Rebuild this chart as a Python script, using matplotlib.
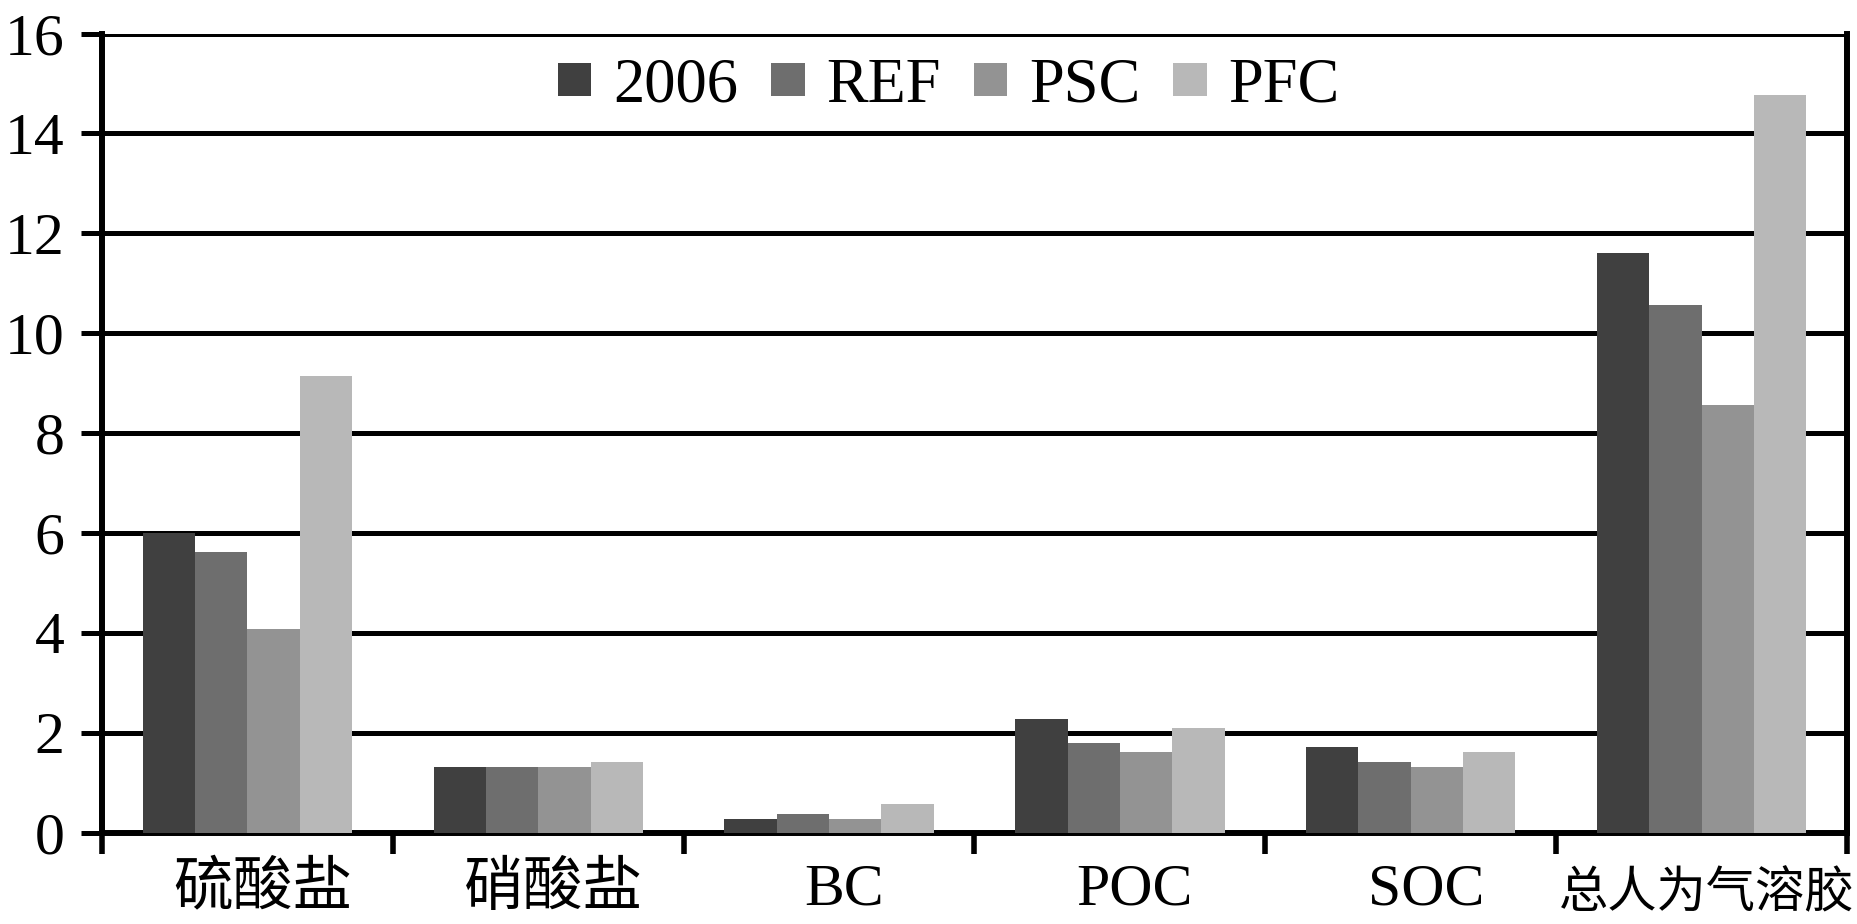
import matplotlib
matplotlib.use("Agg")
import matplotlib.pyplot as plt
import matplotlib.transforms as mtransforms
import numpy as np

categories = ["硫酸盐", "硝酸盐", "BC", "POC", "SOC", "总人为气溶胶"]
series_names = ["2006", "REF", "PSC", "PFC"]
v2006 = [6.0, 1.32, 0.27, 2.27, 1.71, 11.61]
vREF = [5.62, 1.32, 0.37, 1.80, 1.41, 10.57]
vPSC = [4.08, 1.32, 0.27, 1.61, 1.32, 8.57]
vPFC = [9.15, 1.41, 0.57, 2.09, 1.61, 14.77]
colors = ["#404040", "#6e6e6e", "#939393", "#b8b8b8"]
yticks = [0, 2, 4, 6, 8, 10, 12, 14, 16]

plt.rcParams['font.family'] = ['Liberation Serif', 'Noto Sans CJK SC', 'DejaVu Sans']

fig = plt.figure(figsize=(18.58, 9.24), dpi=100)
ax = fig.add_axes([102/1858, 1 - 832.6/924, (1847 - 102)/1858, (832.6 - 33.6)/924])

x = np.arange(len(categories))
w = 0.18
all_vals = [v2006, vREF, vPSC, vPFC]
for i, (vals, name, c) in enumerate(zip(all_vals, series_names, colors)):
    ax.bar(x + (i - 1.5) * w, vals, width=w, color=c, label=name, zorder=3, linewidth=0)

ax.set_xlim(-0.5, len(categories) - 0.5)
ax.set_ylim(0, 16)
ax.set_yticks(yticks)
ax.set_yticklabels([str(t) for t in yticks])
ax.yaxis.grid(True, color='black', linewidth=3.6, zorder=1)
ax.set_axisbelow(True)

ax.set_xticks(x)
ax.set_xticklabels(categories)
ax.set_xticks(np.arange(-0.5, len(categories) + 0.5, 1), minor=True)
ax.tick_params(axis='x', which='major', length=0, pad=22, labelsize=43)
ax.tick_params(axis='x', which='minor', length=15, width=4.0, direction='out', color='black')
ax.tick_params(axis='y', which='major', length=15, width=3.6, direction='out', color='black', pad=12, labelsize=43)

xlabels = ax.get_xticklabels()
for k, lbl in enumerate(xlabels):
    if k < len(xlabels) - 1:
        dx, dy = 15, 0
    else:
        dx, dy = 5, -8
    lbl.set_transform(lbl.get_transform() + mtransforms.ScaledTranslation(dx/100, dy/100, fig.dpi_scale_trans))
xlabels[-1].set_fontsize(35.5)

for side in ['left', 'right', 'bottom']:
    ax.spines[side].set_linewidth(4.3)
    ax.spines[side].set_color('black')
ax.spines['top'].set_visible(False)

leg = ax.legend(loc='center', bbox_to_anchor=(949/1858, 1 - 87/924), bbox_transform=fig.transFigure,
                ncol=4, frameon=False, fontsize=45, handlelength=0.53, handleheight=0.44,
                handletextpad=0.35, columnspacing=0.53, borderaxespad=0, borderpad=0)

fig.savefig("out.png", dpi=100)
